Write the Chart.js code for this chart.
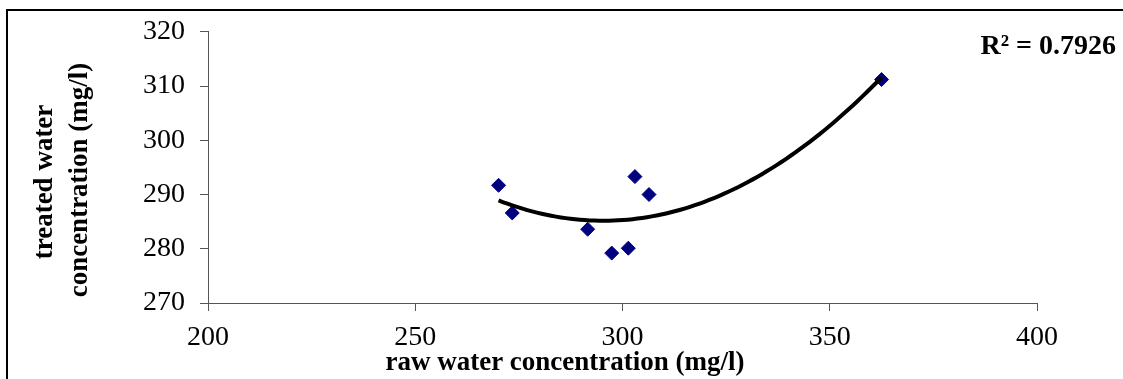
<!DOCTYPE html>
<html>
<head>
<meta charset="utf-8">
<script src="https://cdn.jsdelivr.net/npm/chart.js@4.4.1/dist/chart.umd.min.js"></script>
<style>
  body { margin: 0; background: #fff; }
  #wrap { position: relative; width: 1123px; height: 379px; overflow: hidden; }
  #frame { position: absolute; left: 6px; top: 9px; width: 1300px; height: 600px; border: 2px solid #000; }
  #grafico { position: absolute; left: 0; top: 0; }
</style>
</head>
<body>
<div id="wrap">
  <div id="frame"></div>
  <canvas id="grafico" width="1123" height="379"></canvas>
</div>
<script>
const ctx = document.getElementById('grafico');

    let rawWater = [270.1, 273.4, 291.6, 297.4, 301.4, 303.0, 306.4, 362.5]
    let treatedWater = [291.7, 286.6, 283.6, 279.2, 280.1, 293.3, 290.0, 311.2]
    let xTicks = [200, 250, 300, 350, 400]
    let yTicks = [270, 280, 290, 300, 310, 320]
    let xTitle = 'raw water concentration (mg/l)'
    let yTitle = ['treated water', 'concentration (mg/l)']
    let rSquared = 'R² = 0.7926'

    // quadratic least squares fit (the Excel trendline)
    function polyFit2(xs, ys) {
        let n = xs.length, m = xs.reduce((a, b) => a + b, 0) / n
        let S = [0, 0, 0, 0, 0], T = [0, 0, 0]
        for (let i = 0; i < n; i++) {
            let u = xs[i] - m
            for (let k = 0; k < 5; k++) S[k] += Math.pow(u, k)
            for (let k = 0; k < 3; k++) T[k] += ys[i] * Math.pow(u, k)
        }
        let A = [[S[0], S[1], S[2], T[0]], [S[1], S[2], S[3], T[1]], [S[2], S[3], S[4], T[2]]]
        for (let i = 0; i < 3; i++) {
            for (let j = i + 1; j < 3; j++) {
                let f = A[j][i] / A[i][i]
                for (let k = i; k < 4; k++) A[j][k] -= f * A[i][k]
            }
        }
        let c = [0, 0, 0]
        for (let i = 2; i >= 0; i--) {
            let s = A[i][3]
            for (let k = i + 1; k < 3; k++) s -= A[i][k] * c[k]
            c[i] = s / A[i][i]
        }
        return x => c[0] + c[1] * (x - m) + c[2] * (x - m) * (x - m)
    }

    let fit = polyFit2(rawWater, treatedWater)
    let xMin = Math.min(...rawWater), xMax = Math.max(...rawWater)
    let trend = []
    for (let i = 0; i <= 80; i++) {
        let x = xMin + (xMax - xMin) * i / 80
        trend.push({ x: x, y: fit(x) })
    }

    const serif = "'Liberation Serif', 'Times New Roman', serif"

    const textPlugin = {
        id: 'texts',
        afterDraw(chart) {
            const c = chart.ctx
            c.save()
            c.fillStyle = '#000'
            c.font = 'bold 27px ' + serif
            c.textAlign = 'center'
            c.textBaseline = 'alphabetic'
            c.fillText(xTitle, 565, 370)
            c.save()
            c.translate(45, 182)
            c.rotate(-Math.PI / 2)
            c.textBaseline = 'middle'
            c.fillText(yTitle[0], 0, 0)
            c.restore()
            c.save()
            c.translate(80, 180)
            c.rotate(-Math.PI / 2)
            c.textBaseline = 'middle'
            c.fillText(yTitle[1], 0, 0)
            c.restore()
            c.font = 'bold 28px ' + serif
            c.textAlign = 'right'
            c.textBaseline = 'middle'
            c.fillText(rSquared, 1116, 47)
            c.restore()
        }
    }

    new Chart(ctx, {
        type: 'scatter',
        data: {
            datasets: [{
                label: 'trend',
                data: trend,
                showLine: true,
                borderColor: '#000',
                borderWidth: 4,
                pointRadius: 0,
                tension: 0,
                order: 0
            }, {
                label: 'samples',
                data: rawWater.map((x, i) => ({ x: x, y: treatedWater[i] })),
                pointStyle: 'rectRot',
                pointRadius: 7,
                backgroundColor: '#000080',
                borderColor: '#000080',
                borderWidth: 1,
                order: 1
            }]
        },
        options: {
            responsive: false,
            animation: false,
            layout: { padding: { top: 31, right: 86, bottom: 0, left: 0 } },
            plugins: { legend: { display: false }, tooltip: { enabled: false } },
            scales: {
                x: {
                    type: 'linear',
                    min: 200,
                    max: 400,
                    afterBuildTicks: s => { s.ticks = xTicks.map(v => ({ value: v })) },
                    afterFit: s => { s.height = 76 },
                    ticks: { color: '#000', font: { family: serif, size: 28 }, padding: 10, maxRotation: 0 },
                    grid: { drawOnChartArea: false, tickLength: 8, color: '#555' },
                    border: { color: '#555', width: 1 }
                },
                y: {
                    min: 270,
                    max: 320,
                    afterBuildTicks: s => { s.ticks = yTicks.map(v => ({ value: v })) },
                    afterFit: s => { s.width = 208 },
                    ticks: { color: '#000', font: { family: serif, size: 28 }, padding: 15 },
                    grid: { drawOnChartArea: false, tickLength: 8, color: '#555' },
                    border: { color: '#555', width: 1 }
                }
            }
        },
        plugins: [textPlugin]
    });
</script>
</body>
</html>
